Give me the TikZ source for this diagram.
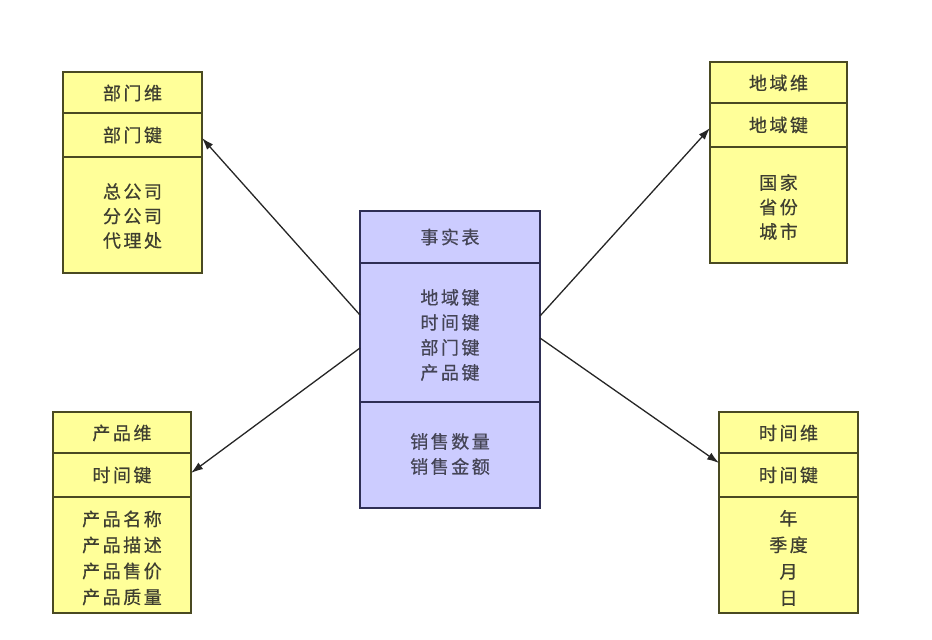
\documentclass[tikz,border=0pt]{standalone}
\usepackage{fontspec}
\newfontfamily\cjk[LetterSpace=14,FakeBold=0.6]{Noto Sans CJK SC}
\usetikzlibrary{arrows.meta}
\definecolor{yfill}{HTML}{FFFF99}
\definecolor{ydraw}{HTML}{4A4A22}
\definecolor{bfill}{HTML}{CCCCFF}
\definecolor{bdraw}{HTML}{2E2E55}
\definecolor{ytext}{HTML}{3E3E30}
\definecolor{btext}{HTML}{444455}
\tikzset{
  ybox/.style={draw=ydraw, fill=yfill, line width=1.5pt},
  bbox/.style={draw=bdraw, fill=bfill, line width=1.5pt},
  ylbl/.style={font=\cjk\fontsize{18}{24.5}\selectfont, text=ytext, align=center, inner sep=0pt},
  blbl/.style={font=\cjk\fontsize{18}{25}\selectfont, text=btext, align=center, inner sep=0pt},
  conn/.style={draw=black!85, line width=1.3pt, -{Latex[length=12pt,width=8pt]}}
}
\begin{document}
\begin{tikzpicture}[x=1pt,y=-1pt]
\useasboundingbox (0,0) rectangle (932,640);
\fill[white] (0,0) rectangle (932,640);

% top-left: department dimension
\draw[ybox] (63,72) rectangle (202,273);
\draw[ybox] (63,113) -- (202,113) (63,157) -- (202,157);
\node[ylbl] (deptT) at (132.5,93) {部门维};
\node[ylbl] (deptK) at (132.5,135) {部门键};
\node[ylbl] (deptB) at (132.5,216) {总公司\\分公司\\代理处};

% top-right: region dimension
\draw[ybox] (710,62) rectangle (847,263);
\draw[ybox] (710,103) -- (847,103) (710,147) -- (847,147);
\node[ylbl] (regT) at (778.5,83) {地域维};
\node[ylbl] (regK) at (778.5,125) {地域键};
\node[ylbl] (regB) at (778.5,207) {国家\\省份\\城市};

% center: fact table
\draw[bbox] (360,211) rectangle (540,508);
\draw[bbox] (360,263) -- (540,263) (360,402) -- (540,402);
\node[blbl] (factT) at (450,237) {事实表};
\node[blbl] (factK) at (450,335) {地域键\\时间键\\部门键\\产品键};
\node[blbl] (factM) at (450,454) {销售数量\\销售金额};

% bottom-left: product dimension
\draw[ybox] (53,412) rectangle (191,613);
\draw[ybox] (53,453) -- (191,453) (53,497) -- (191,497);
\node[ylbl] (prodT) at (122,433) {产品维};
\node[ylbl] (prodK) at (122,475) {时间键};
\node[ylbl, font=\cjk\fontsize{18}{26}\selectfont] (prodB) at (122,558) {产品名称\\产品描述\\产品售价\\产品质量};

% bottom-right: time dimension
\draw[ybox] (719,412) rectangle (858,613);
\draw[ybox] (719,453) -- (858,453) (719,497) -- (858,497);
\node[ylbl] (timeT) at (788.5,433) {时间维};
\node[ylbl] (timeK) at (788.5,475) {时间键};
\node[ylbl, font=\cjk\fontsize{18}{26.5}\selectfont] (timeB) at (788.5,558) {年\\季度\\月\\日};

% connector end points
\coordinate (fL1) at (360,315);
\coordinate (fL2) at (360,348);
\coordinate (fR1) at (540,316);
\coordinate (fR2) at (540,338);
\coordinate (deptIn) at (202,138);
\coordinate (prodIn) at (191,473);
\coordinate (regIn) at (710,128);
\coordinate (timeIn) at (719,463);

\draw[conn] (fL1) -- (deptIn);
\draw[conn] (fL2) -- (prodIn);
\draw[conn] (fR1) -- (regIn);
\draw[conn] (fR2) -- (timeIn);
\end{tikzpicture}
\end{document}
